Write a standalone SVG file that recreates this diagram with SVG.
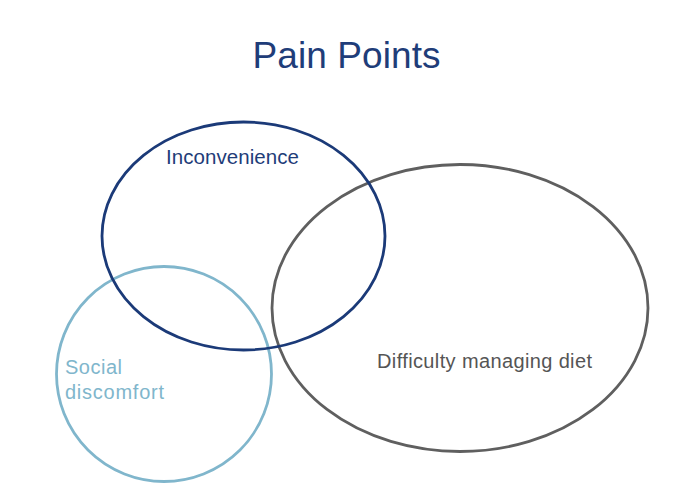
<svg xmlns="http://www.w3.org/2000/svg" width="695" height="494" viewBox="0 0 695 494">
<style>
.c{fill:none;stroke-width:2.8}
.t{font-family:"Liberation Sans",Arial,sans-serif}
</style>
<rect width="695" height="494" fill="#ffffff"/>
<text class="t" x="346.5" y="68" font-size="37" text-anchor="middle" textLength="188" fill="#1f3d79">Pain Points</text>
<g id="social">
<circle class="c" cx="164" cy="374" r="107.5" stroke="#80b6cc"/>
<text class="t" font-size="20" fill="#80b6cc"><tspan x="65" y="374" textLength="57">Social</tspan><tspan x="65" y="399" textLength="99">discomfort</tspan></text>
</g>
<g id="diet">
<ellipse class="c" cx="460" cy="308" rx="188" ry="143.5" stroke="#5f5f5f"/>
<text class="t" x="377" y="368" font-size="20" textLength="215" fill="#555555">Difficulty managing diet</text>
</g>
<g id="inconvenience">
<ellipse class="c" cx="243.5" cy="236" rx="141.5" ry="114" stroke="#1b3a78"/>
<text class="t" x="166" y="164" font-size="20.5" textLength="133" fill="#1f3d79">Inconvenience</text>
</g>
<g id="connectors"/>
</svg>
